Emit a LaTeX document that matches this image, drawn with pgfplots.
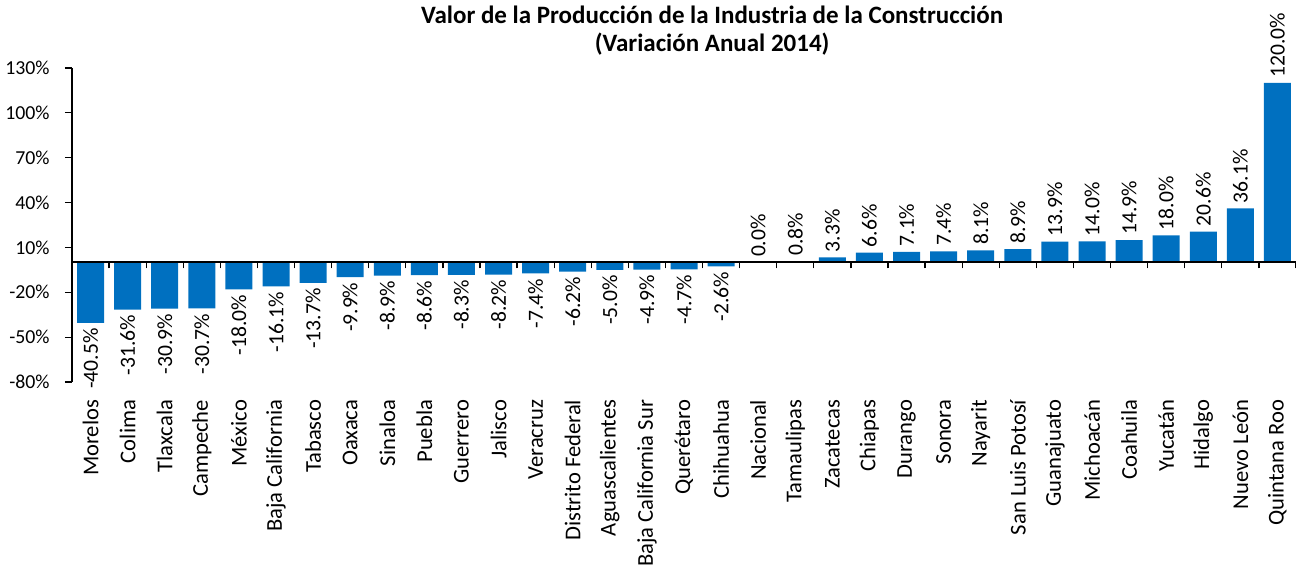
\documentclass[border=0pt]{standalone}
\usepackage{fontspec}
\setmainfont{Carlito}
\usepackage{pgfplots}
\pgfplotsset{compat=1.18}
\usepackage{pgfplotstable}
\definecolor{barblue}{RGB}{0,112,192}

\pgfplotstableread{
x y
0 -40.5
1 -31.6
2 -30.9
3 -30.7
4 -18.0
5 -16.1
6 -13.7
7 -9.9
8 -8.9
9 -8.6
10 -8.3
11 -8.2
12 -7.4
13 -6.2
14 -5.0
15 -4.9
16 -4.7
17 -2.6
}\negdata

\pgfplotstableread{
x y
18 0.0
19 0.8
20 3.3
21 6.6
22 7.1
23 7.4
24 8.1
25 8.9
26 13.9
27 14.0
28 14.9
29 18.0
30 20.6
31 36.1
32 120.0
}\posdata

\begin{document}
\begin{tikzpicture}
\useasboundingbox (-36pt,-93.5pt) rectangle (612pt,191pt);
\begin{axis}[
  scale only axis,
  width=612pt, height=157pt,
  xmin=-0.5, xmax=32.5,
  ymin=-80, ymax=130,
  ybar, bar width=13.5pt, bar shift=0pt,
  axis x line=bottom, axis y line=left,
  x axis line style={draw=none},
  y axis line style={-, black, line width=0.6pt},
  xtick={0,...,32},
  xticklabels={Morelos,Colima,Tlaxcala,Campeche,México,Baja California,Tabasco,Oaxaca,Sinaloa,Puebla,Guerrero,Jalisco,Veracruz,Distrito Federal,Aguascalientes,Baja California Sur,Querétaro,Chihuahua,Nacional,Tamaulipas,Zacatecas,Chiapas,Durango,Sonora,Nayarit,San Luis Potosí,Guanajuato,Michoacán,Coahuila,Yucatán,Hidalgo,Nuevo León,Quintana Roo},
  xtick style={draw=none},
  xticklabel style={rotate=90, anchor=east, inner sep=0pt, font=\fontsize{11.3}{13}\selectfont},
  xticklabel shift=7pt,
  ytick={-80,-50,...,130},
  yticklabel={\pgfmathprintnumber{\tick}\%},
  /pgf/number format/assume math mode=true,
  yticklabel style={font=\fontsize{9.9}{12}\selectfont, inner sep=1pt, xshift=-6.5pt},
  ytick align=outside, ytick style={black, line width=0.6pt},
  major tick length=3.5pt,
  title={Valor de la Producción de la Industria de la Construcción\\(Variación Anual 2014)},
  title style={at={(0.523,1)}, anchor=south, yshift=0pt, inner sep=0pt, align=center, font=\bfseries\fontsize{12.5}{14}\selectfont},
  nodes near coords={\pgfmathprintnumber[fixed,fixed zerofill,precision=1]{\pgfplotspointmeta}\%},
  every node near coord/.append style={rotate=90, font=\fontsize{10.8}{12}\selectfont, inner sep=2.5pt, black},
  clip=false,
]
\addplot[fill=barblue, draw=none, nodes near coords style={anchor=east}] table[x=x,y=y] {\negdata};
\addplot[fill=barblue, draw=none, nodes near coords style={anchor=west}] table[x=x,y=y] {\posdata};
\end{axis}
\begin{axis}[
  scale only axis,
  width=612pt, height=157pt,
  xmin=-0.5, xmax=32.5,
  ymin=-80, ymax=130,
  axis x line=middle, axis y line=none,
  x axis line style={-, black, line width=0.9pt},
  xtick={-0.5,0.5,...,32.5},
  xticklabels={},
  xtick align=outside,
  xtick style={black, line width=0.6pt},
  major tick length=3pt,
  ytick=\empty,
]
\end{axis}
\end{tikzpicture}
\end{document}
